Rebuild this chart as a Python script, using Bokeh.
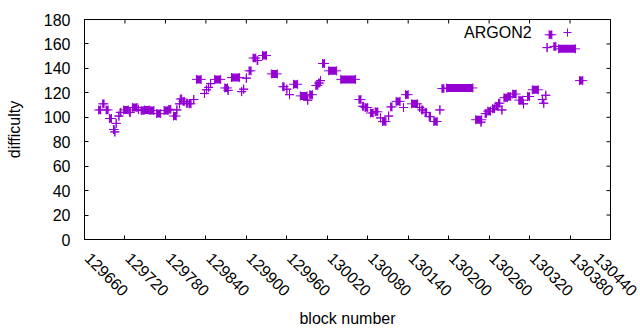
import numpy as np
from bokeh.plotting import figure
from bokeh.models import (Range1d, FixedTicker, ColumnDataSource, Legend,
                          LegendItem, Label, CustomJSTickFormatter)
from bokeh.embed import file_html
from bokeh.resources import INLINE

# ---- data ----
x_ticks = [129660, 129720, 129780, 129840, 129900, 129960, 130020,
           130080, 130140, 130200, 130260, 130320, 130380, 130440]
y_ticks = [0, 20, 40, 60, 80, 100, 120, 140, 160, 180]

series_name = "ARGON2"

# runs of ARGON2 blocks: first block, last block, difficulty
run_start = [129681, 129687, 129692, 129697, 129703, 129705, 129707, 129711, 129713, 129718,
             129727, 129731, 129740, 129744, 129749, 129757, 129767, 129778, 129785, 129792,
             129797, 129801, 129802, 129806, 129811, 129815, 129822, 129826, 129838, 129841,
             129844, 129847, 129853, 129868, 129873, 129878, 129893, 129896, 129900, 129904,
             129910, 129916, 129924, 129937, 129954, 129960, 129964, 129970, 129980, 129991,
             129994, 130003, 130007, 130010, 130013, 130022, 130040, 130067, 130072, 130076,
             130084, 130091, 130099, 130102, 130111, 130114, 130122, 130133, 130136, 130145,
             130157, 130160, 130165, 130171, 130178, 130187, 130190, 130197, 130240, 130248,
             130254, 130258, 130265, 130270, 130274, 130279, 130282, 130288, 130295, 130304,
             130311, 130317, 130324, 130339, 130341, 130344, 130346, 130349, 130356, 130363,
             130394]
run_end = [129684, 129689, 129695, 129700, 129704, 129705, 129707, 129711, 129714, 129725,
           129728, 129738, 129740, 129748, 129756, 129763, 129773, 129784, 129788, 129796,
           129797, 129801, 129804, 129808, 129813, 129818, 129822, 129833, 129838, 129841,
           129844, 129847, 129862, 129872, 129873, 129890, 129893, 129896, 129900, 129907,
           129914, 129917, 129930, 129946, 129956, 129960, 129964, 129976, 129990, 129991,
           129998, 130006, 130009, 130010, 130016, 130034, 130062, 130070, 130074, 130080,
           130088, 130095, 130099, 130107, 130111, 130116, 130128, 130133, 130140, 130154,
           130157, 130162, 130167, 130173, 130183, 130187, 130193, 130236, 130249, 130248,
           130256, 130262, 130268, 130273, 130276, 130279, 130287, 130292, 130300, 130310,
           130311, 130320, 130333, 130339, 130341, 130344, 130346, 130353, 130359, 130388,
           130399]
run_diff = [106, 111, 106, 99, 90, 88, 95, 101, 104, 106,
            104, 108, 106.5, 105.5, 106, 105.5, 103, 105.5, 106.5, 101,
            106, 111, 115, 113, 111.5, 111, 114.5, 131, 119.5, 122.5,
            124.5, 127.5, 131, 124, 122, 132.5, 121, 123, 132, 138,
            148.5, 146.5, 150.5, 135.5, 125, 123, 118.5, 127, 117.5, 114,
            118.5, 126, 128, 130, 144, 138, 131, 114.5, 109, 108,
            103.5, 104.5, 99.5, 96.5, 101, 108.5, 113, 108, 118.5, 111,
            108, 106, 104, 100.5, 96.5, 106, 123.5, 124, 98, 96,
            103, 105, 107, 109, 111.5, 106, 116, 117, 119, 114,
            111, 117, 122.5, 114.5, 111.5, 118, 157, 167.5, 158, 156,
            130]

COLOR = "#9400d3"
FONT = "Liberation Sans"
FS = "16px"
X0, X1 = x_ticks[0], x_ticks[-1]
Y0, Y1 = y_ticks[0], y_ticks[-1]

p = figure(width=640, height=330, output_backend="svg", toolbar_location=None,
           x_range=Range1d(X0, X1), y_range=Range1d(Y0, Y1),
           min_border_left=84, min_border_right=30, min_border_top=19,
           min_border_bottom=91)
p.grid.visible = False
p.outline_line_color = "black"
p.outline_line_width = 1
p.background_fill_color = "white"
p.border_fill_color = "white"

seg_src = ColumnDataSource(dict(x0=run_start, x1=run_end, y=run_diff))
p.segment(x0="x0", y0="y", x1="x1", y1="y", source=seg_src,
          line_color=COLOR, line_width=8, line_cap="butt")
pts = ColumnDataSource(dict(x=run_start + run_end, y=run_diff + run_diff))
sc = p.scatter("x", "y", source=pts, marker="cross", size=9,
               line_color=COLOR, line_width=1)

# bottom axis; a no-break space starts each rotated label just right of its tick
xa = p.xaxis[0]
xa.ticker = FixedTicker(ticks=x_ticks)
xa.formatter = CustomJSTickFormatter(code="return '\\u00a0' + tick.toFixed(0)")
xa.major_label_orientation = -np.pi / 4
xa.axis_label = "block number"
# left axis
ya = p.yaxis[0]
ya.ticker = FixedTicker(ticks=y_ticks)
ya.axis_label = "difficulty"

for ax in (xa, ya):
    ax.major_tick_in = 4
    ax.major_tick_out = 0
    ax.minor_tick_in = 0
    ax.minor_tick_out = 0
    ax.axis_line_color = "black"
    ax.major_tick_line_color = "black"
    ax.major_label_text_font = FONT
    ax.major_label_text_font_size = FS
    ax.major_label_text_color = "black"
    ax.axis_label_text_font = FONT
    ax.axis_label_text_font_size = FS
    ax.axis_label_text_font_style = "normal"
    ax.axis_label_text_color = "black"

xa.major_label_standoff = 13
xa.axis_label_standoff = 2
ya.major_label_standoff = 14
ya.axis_label_standoff = 18

# mirrored inward ticks on the top and right borders (clipped to the frame)
p.scatter(x_ticks, [Y1] * len(x_ticks), marker="dash", angle=np.pi / 2, size=8,
          line_color="black", line_width=1)
p.scatter([X1] * len(y_ticks), y_ticks, marker="dash", size=8,
          line_color="black", line_width=1)

# key: text then sample, gnuplot style
p.add_layout(Label(x=130323, y=169.4, text=series_name, text_align="right",
                   text_baseline="middle", text_font=FONT, text_font_size=FS,
                   text_color="black"))
legend = Legend(items=[LegendItem(label=" ", renderers=[sc])], location=(473, 197),
                padding=0, margin=0, border_line_alpha=0, background_fill_alpha=0,
                glyph_width=20, glyph_height=20, label_standoff=0,
                label_text_font_size="1px", label_height=0, label_width=0, spacing=0)
p.add_layout(legend)

open("out.html", "w").write(file_html(p, INLINE))
